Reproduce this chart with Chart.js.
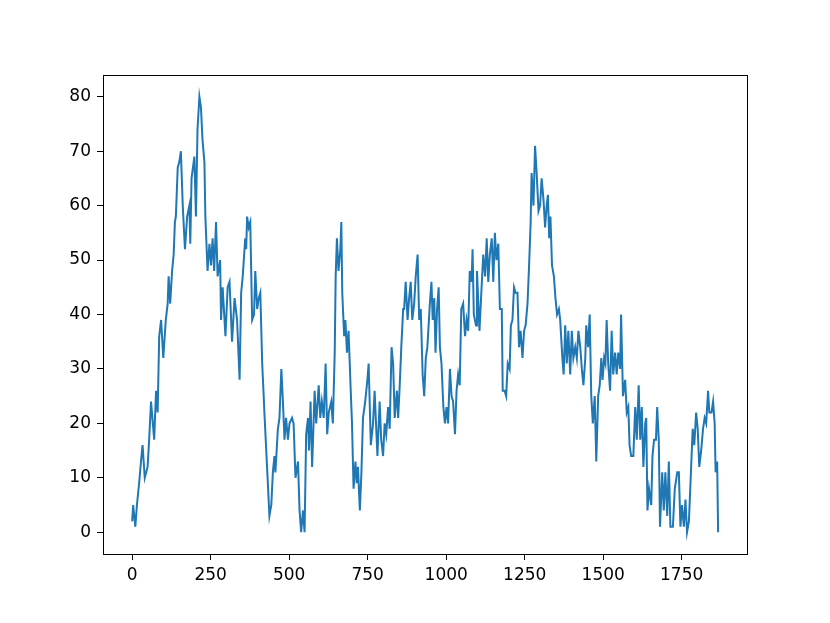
<!DOCTYPE html>
<html>
<head>
<meta charset="utf-8">
<script src="https://cdn.jsdelivr.net/npm/chart.js@4.4.1/dist/chart.umd.min.js"></script>
<style>
  html, body { margin: 0; padding: 0; background: #ffffff; }
  canvas { display: block; }
</style>
</head>
<body>
<canvas id="walkChart" width="830" height="623"></canvas>
<script>
// positions along the walk (x) and value at each (y)
const steps = [
  0, 3, 10, 15, 22, 28, 33, 40, 49, 54, 60, 70, 76, 81, 86, 92, 99, 107, 113, 116,
  121, 127, 132, 136, 139, 145, 150, 155, 161, 168, 175, 182, 185, 189, 198, 203, 208, 214, 219, 224,
  230, 233, 240, 246, 251, 256, 261, 267, 272, 280, 283, 288, 297, 304, 310, 318, 326, 334, 342, 347,
  352, 360, 363, 366, 371, 376, 382, 388, 392, 398, 403, 408, 414, 418, 421, 432, 437, 443, 448, 453,
  456, 464, 469, 475, 480, 485, 490, 496, 501, 509, 514, 520, 528, 533, 538, 544, 549, 554, 560, 563,
  568, 573, 581, 586, 594, 599, 604, 610, 616, 621, 626, 634, 639, 645, 648, 652, 657, 663, 666, 669,
  675, 679, 684, 689, 696, 700, 705, 711, 715, 719, 725, 730, 735, 742, 749, 753, 760, 767, 772, 781,
  788, 793, 799, 804, 809, 815, 820, 826, 831, 836, 843, 847, 852, 857, 863, 866, 871, 877, 882, 887,
  892, 898, 903, 909, 914, 919, 925, 930, 935, 940, 948, 953, 957, 962, 966, 971, 976, 980, 985, 991,
  996, 1001, 1006, 1012, 1017, 1022, 1028, 1033, 1038, 1043, 1048, 1054, 1060, 1065, 1070, 1075, 1081, 1084, 1088, 1095,
  1098, 1106, 1111, 1118, 1124, 1129, 1134, 1139, 1145, 1150, 1155, 1160, 1166, 1171, 1177, 1180, 1186, 1191, 1196, 1202,
  1206, 1211, 1216, 1221, 1227, 1232, 1237, 1243, 1248, 1253, 1259, 1264, 1269, 1272, 1278, 1283, 1288, 1294, 1299, 1304,
  1310, 1315, 1320, 1324, 1328, 1332, 1337, 1343, 1348, 1353, 1359, 1363, 1370, 1374, 1379, 1384, 1389, 1395, 1400, 1405,
  1411, 1416, 1421, 1427, 1432, 1437, 1443, 1446, 1452, 1457, 1462, 1467, 1473, 1478, 1484, 1489, 1494, 1498, 1503, 1507,
  1511, 1516, 1522, 1527, 1532, 1538, 1543, 1548, 1554, 1557, 1563, 1570, 1575, 1580, 1584, 1589, 1596, 1602, 1607, 1613,
  1618, 1623, 1628, 1634, 1637, 1641, 1646, 1653, 1657, 1662, 1668, 1672, 1677, 1681, 1688, 1693, 1698, 1704, 1709, 1714,
  1722, 1728, 1736, 1741, 1746, 1751, 1757, 1762, 1767, 1773, 1778, 1785, 1790, 1796, 1801, 1806, 1812, 1818, 1823, 1828,
  1834, 1838, 1845, 1850, 1855, 1858, 1863, 1866
];
const values = [
  2, 5, 1, 5, 9, 13, 16, 10, 12, 17, 24, 17, 26, 22, 36, 39, 32, 39, 42, 47,
  42, 48, 51, 57, 58, 67, 68, 70, 60, 52, 58, 60, 53, 65, 69, 58, 74, 80, 78, 72,
  68, 58, 48, 53, 49, 54, 48, 57, 47, 50, 39, 45, 36, 45, 46, 35, 43, 39, 28, 44,
  47, 54, 52, 58, 56, 57, 39, 40, 48, 41, 43, 44, 31, 26, 22, 9, 3, 5, 11, 14,
  11, 19, 21, 30, 24, 17, 21, 17, 20, 21, 20, 10, 13, 4, 0, 4, 0, 18, 21, 15,
  24, 12, 26, 20, 27, 21, 24, 21, 31, 18, 22, 24, 20, 33, 47, 54, 48, 52, 57, 44,
  36, 39, 33, 37, 26, 20, 8, 13, 9, 12, 4, 11, 21, 24, 28, 31, 16, 20, 26, 14,
  24, 17, 14, 20, 18, 23, 19, 34, 31, 21, 26, 21, 27, 34, 41, 41, 46, 39, 43, 46,
  39, 42, 47, 51, 39, 41, 29, 25, 32, 34, 42, 46, 39, 43, 33, 41, 45, 34, 31, 23,
  20, 23, 20, 30, 25, 24, 18, 26, 29, 27, 41, 42, 36, 39, 37, 48, 46, 52, 40, 38,
  48, 37, 43, 51, 47, 54, 46, 51, 54, 46, 55, 50, 53, 41, 41, 26, 26, 25, 31, 30,
  38, 39, 45, 44, 44, 34, 37, 32, 37, 38, 42, 49, 57, 66, 60, 71, 66, 59, 60, 65,
  61, 56, 60, 62, 54, 58, 49, 47, 43, 40, 41, 39, 32, 29, 38, 31, 37, 29, 37, 32,
  34, 32, 37, 34, 30, 27, 32, 38, 34, 40, 25, 20, 25, 13, 25, 27, 32, 28, 32, 31,
  39, 31, 26, 37, 29, 33, 29, 33, 30, 40, 25, 28, 22, 23, 16, 14, 14, 23, 17, 27,
  17, 23, 12, 20, 21, 4, 8, 5, 14, 17, 17, 23, 17, 1, 11, 4, 11, 3, 13, 1,
  1, 8, 11, 11, 1, 5, 1, 6, 0, 2, 9, 19, 16, 22, 19, 12, 15, 19, 21, 20,
  26, 22, 22, 24, 20, 11, 13, 0
];
const xTicks = [0, 250, 500, 750, 1000, 1250, 1500, 1750];
const yTicks = [0, 10, 20, 30, 40, 50, 60, 70, 80];

const points = steps.map((s, i) => ({ x: s, y: values[i] }));

// matplotlib draws all four spines, chart.js only the axes
const frameBox = {
  id: "frameBox",
  afterDatasetsDraw(chart) {
    const { ctx, chartArea } = chart;
    ctx.save();
    ctx.strokeStyle = "#000000";
    ctx.lineWidth = 1;
    ctx.strokeRect(
      Math.round(chartArea.left) + 0.5,
      Math.round(chartArea.top) + 0.5,
      Math.round(chartArea.right - chartArea.left),
      Math.round(chartArea.bottom - chartArea.top)
    );
    ctx.restore();
  },
};

const whiteBg = {
  id: "whiteBg",
  beforeDraw(chart) {
    const ctx = chart.ctx;
    ctx.save();
    ctx.fillStyle = "#ffffff";
    ctx.fillRect(0, 0, chart.width, chart.height);
    ctx.restore();
  },
};

const tickFont = { family: "'DejaVu Sans', sans-serif", size: 17 };

new Chart(document.getElementById("walkChart"), {
  type: "line",
  data: {
    datasets: [
      {
        data: points,
        borderColor: "#1f77b4",
        borderWidth: 2,
        pointRadius: 0,
        tension: 0,
        fill: false,
      },
    ],
  },
  options: {
    responsive: false,
    animation: false,
    layout: {
      padding: { top: 75, right: 83, left: 0, bottom: 0 },
    },
    scales: {
      x: {
        type: "linear",
        min: -93,
        max: 1958,
        afterBuildTicks: (scale) => {
          scale.ticks = xTicks.map((v) => ({ value: v }));
        },
        afterFit: (scale) => {
          scale.height = 69;
        },
        grid: {
          drawOnChartArea: false,
          drawTicks: true,
          tickLength: 6,
          color: "#000000",
        },
        border: { display: true, color: "#000000", width: 1 },
        ticks: {
          color: "#000000",
          font: tickFont,
          padding: 5,
          maxRotation: 0,
          autoSkip: false,
          callback: (v) => String(v),
        },
      },
      y: {
        min: -4,
        max: 84,
        afterBuildTicks: (scale) => {
          scale.ticks = yTicks.map((v) => ({ value: v }));
        },
        afterFit: (scale) => {
          scale.width = 103;
        },
        grid: {
          drawOnChartArea: false,
          drawTicks: true,
          tickLength: 6,
          color: "#000000",
        },
        border: { display: true, color: "#000000", width: 1 },
        ticks: {
          color: "#000000",
          font: tickFont,
          padding: 6,
          autoSkip: false,
          callback: (v) => String(v),
        },
      },
    },
    plugins: {
      legend: { display: false },
      tooltip: { enabled: true },
    },
  },
  plugins: [whiteBg, frameBox],
});
</script>
</body>
</html>
